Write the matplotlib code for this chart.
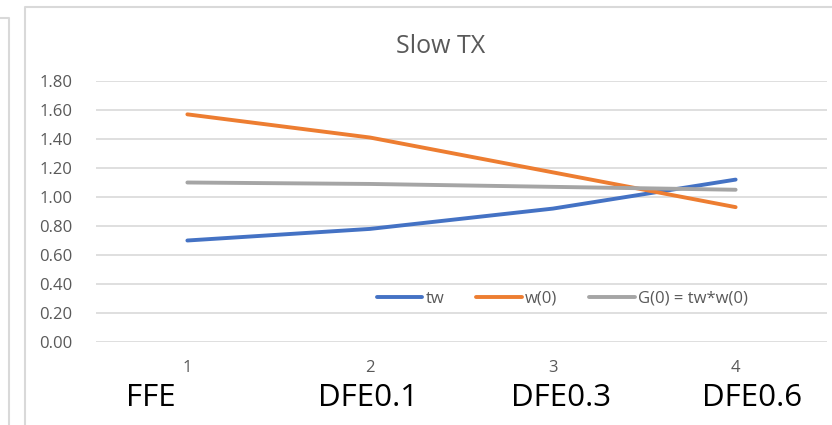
import matplotlib.pyplot as plt
from matplotlib.lines import Line2D

plt.rcParams['font.family'] = ['Open Sans', 'DejaVu Sans']

# data
steps = [1, 2, 3, 4]
tw = [0.70, 0.78, 0.92, 1.12]
w0 = [1.57, 1.41, 1.17, 0.93]
g0 = [1.10, 1.09, 1.07, 1.05]
series_names = ['tw', 'w(0)', 'G(0) = tw*w(0)']
eq_labels = ['FFE', 'DFE0.1', 'DFE0.3', 'DFE0.6']
yticks = [0.0, 0.2, 0.4, 0.6, 0.8, 1.0, 1.2, 1.4, 1.6, 1.8]

colors = ['#4472C4', '#ED7D31', '#A5A5A5']
txt_grey = '#595959'
grid_grey = '#D9D9D9'

W, H = 832, 425
fig = plt.figure(figsize=(W / 100, H / 100), dpi=100)

# frame lines (chart border + neighbouring panel edge)
def px_line(x, y):
    fig.add_artist(Line2D([v / W for v in x], [1 - v / H for v in y],
                          color=grid_grey, lw=1.5, transform=fig.transFigure))

px_line([25, 25, W + 5], [H + 5, 7, 7])
px_line([-5, 9, 9], [18, 18, H + 5])

ax = fig.add_axes([96 / W, 1 - 342 / H, (827 - 96) / W, (342 - 81) / H])

for vals, c, name in zip([tw, w0, g0], colors, series_names):
    ax.plot(steps, vals, color=c, lw=2.8, label=name, solid_capstyle='round')

ax.set_xlim(0.5, 4.5)
ax.set_ylim(0, 1.8)
ax.set_yticks(yticks)
ax.set_yticklabels(['%.2f' % v for v in yticks])
ax.set_xticks(steps)
ax.grid(axis='y', color=grid_grey, lw=1.2)
ax.set_axisbelow(True)
for s in ax.spines.values():
    s.set_visible(False)
ax.tick_params(axis='both', length=0, colors=txt_grey, labelsize=12)
ax.tick_params(axis='y', pad=17)
ax.tick_params(axis='x', pad=13)

ax.set_title('Slow TX', fontsize=18, color=txt_grey, pad=20, x=(441 - 96) / 731)

ax.legend(loc='center', bbox_to_anchor=(0.638, 0.165), ncol=3, frameon=False,
          fontsize=12, labelcolor=txt_grey, handlelength=2.75, handletextpad=0.2,
          columnspacing=1.9)

# category names typed under the axis
for xc, lab in zip([151, 368, 561, 752], eq_labels):
    fig.text(xc / W, 1 - 398 / H, lab, ha='center', va='center',
             fontsize=22.5, color='black')

fig.savefig('out.png', dpi=100)
